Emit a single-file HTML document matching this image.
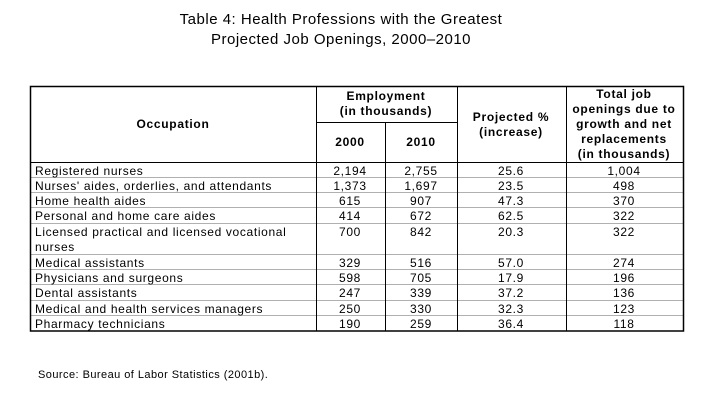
<!DOCTYPE html>
<html><head><style>
html,body{margin:0;padding:0;background:#fff;}
svg{display:block;}
text{font-family:"Liberation Sans",Arial,sans-serif;fill:#000;}
.b{font-weight:bold;font-size:12px;letter-spacing:0.7px;}
.r text{letter-spacing:0.65px;}
</style></head><body>
<svg width="703" height="400" viewBox="0 0 703 400" xmlns="http://www.w3.org/2000/svg">
<text x="341" y="24" font-size="15" text-anchor="middle" letter-spacing="0.5">Table 4: Health Professions with the Greatest</text>
<text x="341" y="44" font-size="15" text-anchor="middle" letter-spacing="0.5">Projected Job Openings, 2000–2010</text>
<g stroke="#b0b0b0" stroke-width="1">
<line x1="30" x2="683" y1="177.5" y2="177.5"/>
<line x1="30" x2="683" y1="192.5" y2="192.5"/>
<line x1="30" x2="683" y1="207.5" y2="207.5"/>
<line x1="30" x2="683" y1="223.5" y2="223.5"/>
<line x1="30" x2="683" y1="254.5" y2="254.5"/>
<line x1="30" x2="683" y1="269.5" y2="269.5"/>
<line x1="30" x2="683" y1="284.5" y2="284.5"/>
<line x1="30" x2="683" y1="300.5" y2="300.5"/>
<line x1="30" x2="683" y1="315.5" y2="315.5"/>
</g>
<g stroke="#000" stroke-width="1">
<line x1="316.5" x2="316.5" y1="86" y2="331"/>
<line x1="385.5" x2="385.5" y1="122" y2="331"/>
<line x1="457.5" x2="457.5" y1="86" y2="331"/>
<line x1="566.5" x2="566.5" y1="86" y2="331"/>
<line x1="316" x2="457" y1="122.5" y2="122.5"/>
<line x1="30" x2="683" y1="162.5" y2="162.5"/>
</g>
<rect x="30.5" y="86.5" width="653" height="244.5" fill="none" stroke="#000" stroke-width="1.5"/>
<text class="b" x="173" y="128" text-anchor="middle">Occupation</text>
<text class="b" x="386" y="100" text-anchor="middle">Employment</text>
<text class="b" x="386" y="115" text-anchor="middle">(in thousands)</text>
<text class="b" x="350" y="146" text-anchor="middle">2000</text>
<text class="b" x="421" y="146" text-anchor="middle">2010</text>
<text class="b" x="511" y="121" text-anchor="middle">Projected %</text>
<text class="b" x="511" y="136" text-anchor="middle">(increase)</text>
<text class="b" x="624" y="98" text-anchor="middle">Total job</text>
<text class="b" x="624" y="113" text-anchor="middle">openings due to</text>
<text class="b" x="624" y="128" text-anchor="middle">growth and net</text>
<text class="b" x="624" y="143" text-anchor="middle">replacements</text>
<text class="b" x="624" y="158" text-anchor="middle">(in thousands)</text>
<g class="r" font-size="12">
<g>
<text x="35" y="175">Registered nurses</text>
<text x="35" y="190">Nurses' aides, orderlies, and attendants</text>
<text x="35" y="205">Home health aides</text>
<text x="35" y="220">Personal and home care aides</text>
<text x="35" y="236">Licensed practical and licensed vocational</text>
<text x="35" y="251">nurses</text>
<text x="35" y="267">Medical assistants</text>
<text x="35" y="282">Physicians and surgeons</text>
<text x="35" y="297">Dental assistants</text>
<text x="35" y="313">Medical and health services managers</text>
<text x="35" y="328">Pharmacy technicians</text>
</g>
<g text-anchor="middle">
<text x="350" y="175">2,194</text><text x="421" y="175">2,755</text><text x="511" y="175">25.6</text><text x="624" y="175">1,004</text>
<text x="350" y="190">1,373</text><text x="421" y="190">1,697</text><text x="511" y="190">23.5</text><text x="624" y="190">498</text>
<text x="350" y="205">615</text><text x="421" y="205">907</text><text x="511" y="205">47.3</text><text x="624" y="205">370</text>
<text x="350" y="220">414</text><text x="421" y="220">672</text><text x="511" y="220">62.5</text><text x="624" y="220">322</text>
<text x="350" y="236">700</text><text x="421" y="236">842</text><text x="511" y="236">20.3</text><text x="624" y="236">322</text>
<text x="350" y="267">329</text><text x="421" y="267">516</text><text x="511" y="267">57.0</text><text x="624" y="267">274</text>
<text x="350" y="282">598</text><text x="421" y="282">705</text><text x="511" y="282">17.9</text><text x="624" y="282">196</text>
<text x="350" y="297">247</text><text x="421" y="297">339</text><text x="511" y="297">37.2</text><text x="624" y="297">136</text>
<text x="350" y="313">250</text><text x="421" y="313">330</text><text x="511" y="313">32.3</text><text x="624" y="313">123</text>
<text x="350" y="328">190</text><text x="421" y="328">259</text><text x="511" y="328">36.4</text><text x="624" y="328">118</text>
</g>
</g>
<text x="38" y="378" font-size="11" letter-spacing="0.45">Source: Bureau of Labor Statistics (2001b).</text>
</svg>
</body></html>
